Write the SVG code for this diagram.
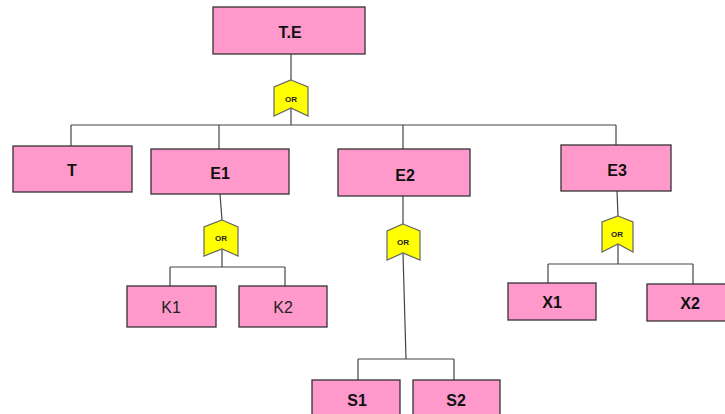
<svg xmlns="http://www.w3.org/2000/svg" width="725" height="414" viewBox="0 0 725 414">
<defs>
<style>
.box{fill:#FF99CC;stroke:#333;stroke-width:1.3}
.gate{fill:#FFFF00;stroke:#666;stroke-width:1.2}
.ln{fill:none;stroke:#444;stroke-width:1.2}
.lb{font-family:"Liberation Sans",Arial,sans-serif;font-size:16px;font-weight:bold;fill:#111;text-anchor:middle;dominant-baseline:central}
.ln2{font-family:"Liberation Sans",Arial,sans-serif;font-size:16px;fill:#222;text-anchor:middle;dominant-baseline:central}
.or{font-family:"Liberation Sans",Arial,sans-serif;font-size:8px;font-weight:bold;fill:#222;text-anchor:middle;dominant-baseline:central}
</style>
</defs>
<rect width="725" height="414" fill="#fff"/>
<g id="connectors">
<path class="ln" d="M291,54 V80"/>
<path class="ln" d="M291,108 V125"/>
<path class="ln" d="M71,125 H616"/>
<path class="ln" d="M71,125 V146"/>
<path class="ln" d="M219,125 V149"/>
<path class="ln" d="M403,125 V149"/>
<path class="ln" d="M616,125 V145"/>
<path class="ln" d="M220,194 L222,220"/>
<path class="ln" d="M222,249 V267"/>
<path class="ln" d="M170,267 H285"/>
<path class="ln" d="M170,267 V286"/>
<path class="ln" d="M285,267 V286"/>
<path class="ln" d="M403,196 V224"/>
<path class="ln" d="M403,253 L406,359"/>
<path class="ln" d="M358,359 H454"/>
<path class="ln" d="M358,359 V380"/>
<path class="ln" d="M454,359 V380"/>
<path class="ln" d="M617,191 L618,216"/>
<path class="ln" d="M618,244 V264"/>
<path class="ln" d="M548,264 H693"/>
<path class="ln" d="M548,264 V283"/>
<path class="ln" d="M693,264 V284"/>
</g>
<g id="TE"><rect class="box" x="213" y="7" width="152" height="47"/><text class="lb" x="290" y="32" font-size="14">T.E</text></g>
<g id="gate0"><path class="gate" d="M291,80 L308,87 V116 L291,108 L274,116 V87 Z"/><text class="or" x="291" y="99">OR</text></g>
<g id="T"><rect class="box" x="13" y="146" width="119" height="46"/><text class="lb" x="72" y="170">T</text></g>
<g id="E1"><rect class="box" x="151" y="149" width="138" height="45"/><text class="lb" x="220" y="173">E1</text></g>
<g id="E2"><rect class="box" x="338" y="149" width="132" height="47"/><text class="lb" x="405" y="175">E2</text></g>
<g id="E3"><rect class="box" x="561" y="145" width="110" height="46"/><text class="lb" x="617" y="170">E3</text></g>
<g id="gate1"><path class="gate" d="M222,220 L238,227 V256 L222,249 L204,256 V227 Z"/><text class="or" x="221" y="238">OR</text></g>
<g id="gate2"><path class="gate" d="M403,224 L420,231 V260 L403,253 L387,260 V231 Z"/><text class="or" x="403" y="242">OR</text></g>
<g id="gate3"><path class="gate" d="M618,216 L633,222 V252 L618,244 L602,252 V222 Z"/><text class="or" x="617" y="234">OR</text></g>
<g id="K1"><rect class="box" x="127" y="286" width="89" height="41"/><text class="ln2" x="171" y="307">K1</text></g>
<g id="K2"><rect class="box" x="239" y="286" width="88" height="41"/><text class="ln2" x="283" y="307">K2</text></g>
<g id="S1"><rect class="box" x="312" y="380" width="88" height="40"/><text class="lb" x="357" y="400">S1</text></g>
<g id="S2"><rect class="box" x="413" y="380" width="87" height="40"/><text class="lb" x="456" y="400">S2</text></g>
<g id="X1"><rect class="box" x="508" y="283" width="88" height="37"/><text class="lb" x="552" y="302">X1</text></g>
<g id="X2"><rect class="box" x="647" y="284" width="80" height="37"/><text class="lb" x="690" y="303">X2</text></g>
</svg>
